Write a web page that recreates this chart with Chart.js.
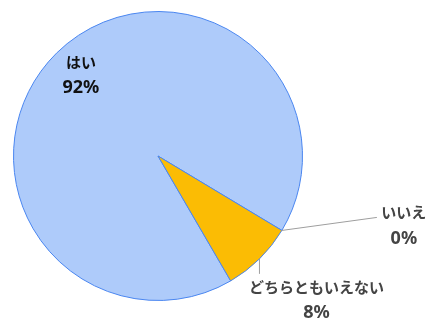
<!DOCTYPE html>
<html>
<head>
<meta charset="utf-8">
<script src="https://cdn.jsdelivr.net/npm/chart.js@4/dist/chart.umd.min.js"></script>
<style>
  html, body { margin: 0; padding: 0; background: #fff; }
  #wrap { width: 427px; height: 322px; }
</style>
</head>
<body>
<div id="wrap"><canvas id="pie"></canvas></div>
<script>
var labels = ['はい', 'いいえ', 'どちらともいえない'];
var values = [92, 0, 8];
var colors = ['#aecbfa', '#aecbfa', '#fbbc04'];

var kanaFont = 'bold 15px "Noto Sans CJK JP", "Noto Sans", sans-serif';
var numFont = 'bold 18px "Noto Sans", "Open Sans", sans-serif';

// label placement for each slice: inside, or with a leader line
var labelStyle = [
    { inside: true, color: '#111111' },
    { inside: false, color: '#444444', lineDx: 95, lineDy: -13, textDx: 122, textDy: -18 },
    { inside: false, color: '#444444', lineDx: 0, lineDy: 15, textDx: 57, textDy: 28 }
];

var sliceLabels = {
    id: 'sliceLabels',
    afterDraw: function(chart) {
        var ctx = chart.ctx;
        var meta = chart.getDatasetMeta(0);
        ctx.save();
        ctx.textAlign = 'center';
        ctx.textBaseline = 'middle';
        for (var i = 0; i < meta.data.length; i++) {
            var arc = meta.data[i];
            var p = arc.getProps(['x', 'y', 'startAngle', 'endAngle', 'outerRadius'], true);
            var mid = (p.startAngle + p.endAngle) / 2;
            var st = labelStyle[i];
            var pct = values[i] + '%';
            var tx, ty;
            ctx.fillStyle = st.color;
            if (st.inside) {
                var r = p.outerRadius * 0.76;
                tx = p.x + Math.cos(mid) * r;
                ty = p.y + Math.sin(mid) * r - 16;
            } else {
                var ax = p.x + Math.cos(mid) * p.outerRadius;
                var ay = p.y + Math.sin(mid) * p.outerRadius;
                ctx.strokeStyle = '#9e9e9e';
                ctx.lineWidth = 1;
                ctx.beginPath();
                ctx.moveTo(ax, ay);
                ctx.lineTo(ax + st.lineDx, ay + st.lineDy);
                ctx.stroke();
                tx = ax + st.textDx;
                ty = ay + st.textDy;
            }
            ctx.font = kanaFont;
            ctx.fillText(labels[i], tx, ty);
            ctx.font = numFont;
            ctx.fillText(pct, tx, ty + 26);
        }
        ctx.restore();
    }
};

new Chart(document.getElementById('pie'), {
    type: 'pie',
    data: {
        labels: labels,
        datasets: [{
            data: values,
            backgroundColor: colors,
            borderColor: '#4a86f0',
            borderWidth: 1
        }]
    },
    options: {
        responsive: true,
        maintainAspectRatio: false,
        animation: false,
        rotation: 149.8,
        layout: { padding: { left: 13, right: 124, top: 11, bottom: 21 } },
        plugins: {
            legend: { display: false },
            tooltip: { enabled: false }
        }
    },
    plugins: [sliceLabels]
});
</script>
</body>
</html>
